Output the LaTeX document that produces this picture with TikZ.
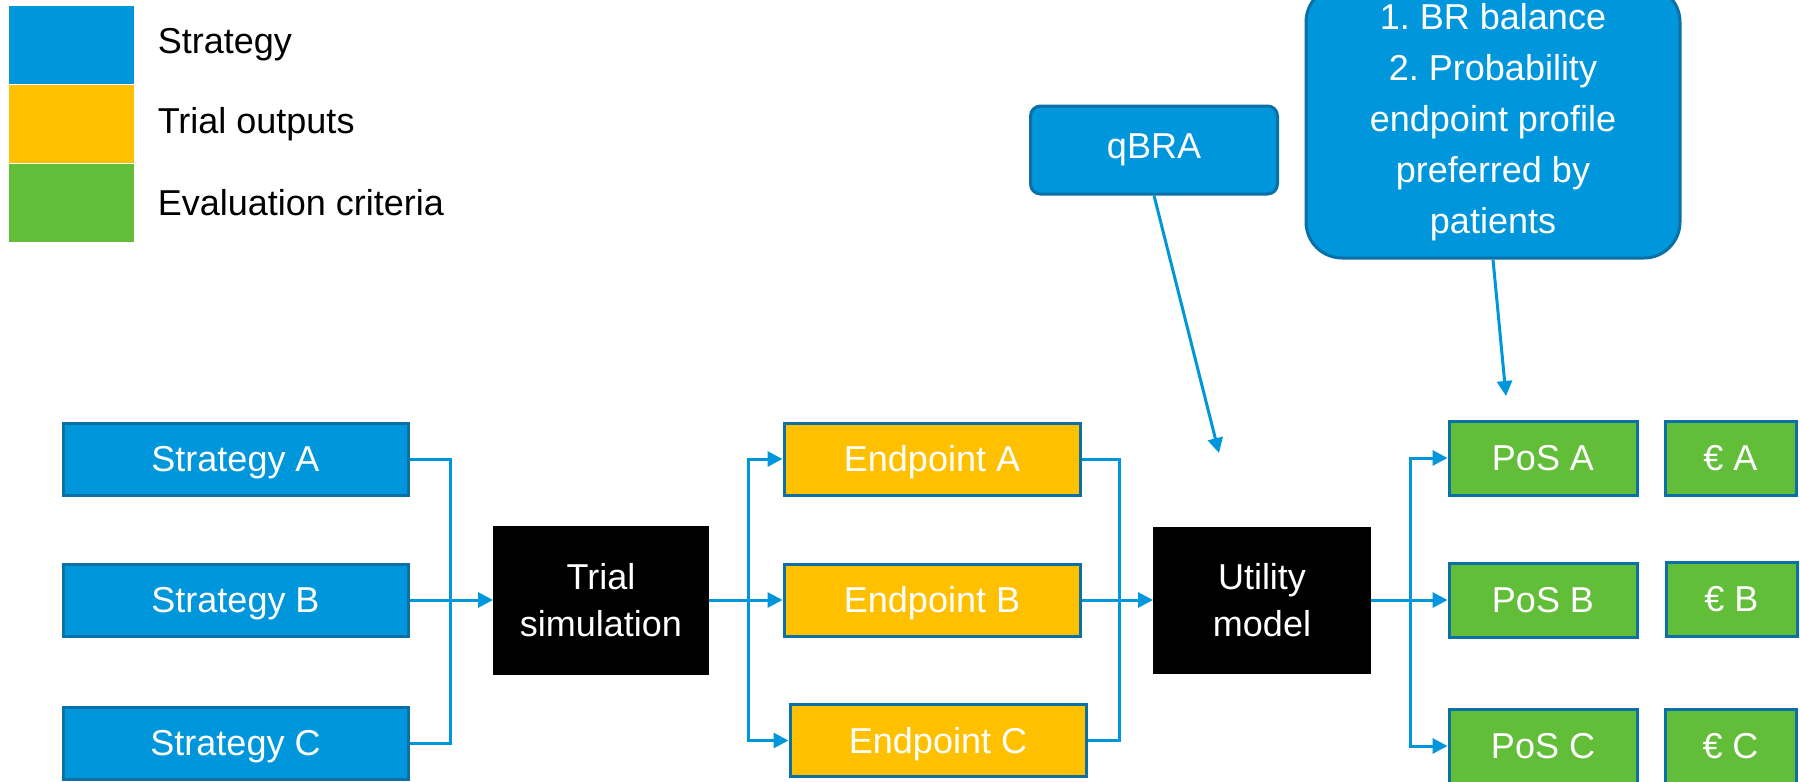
\documentclass[tikz,border=0pt]{standalone}
\usepackage{fontspec}
\setmainfont{Liberation Sans}
\usepackage{xcolor}
\definecolor{stratblue}{HTML}{0096DB}
\definecolor{edge}{HTML}{0A70A6}
\definecolor{output}{HTML}{FFC000}
\definecolor{criteria}{HTML}{62BD39}
\usepackage{tikz}
\usetikzlibrary{arrows.meta, positioning}
\frenchspacing
\tikzset{
  >={Triangle[length=7.5pt, width=7.5pt]},
  box/.style={draw=edge, line width=1.5pt, align=center, inner sep=2pt,
    font=\fontsize{18}{23.5}\selectfont, text=white, minimum height=36pt},
  oneline/.style={box, text height=16.5pt, text depth=3.8pt},
  strat/.style={oneline, fill=stratblue, minimum width=172.5pt},
  outp/.style={oneline, fill=output, minimum width=148pt},
  crit/.style={oneline, fill=criteria, minimum height=37pt},
  model/.style={box, draw=black, fill=black, line width=0.5pt},
  input/.style={box, fill=stratblue, rounded corners=5pt},
  swatch/.style={inner sep=0pt, minimum width=62.5pt, minimum height=39pt},
  legtext/.style={font=\fontsize{18}{22}\selectfont, inner sep=2.5pt, anchor=west},
  flow/.style={draw=stratblue, line width=1.5pt},
}

\begin{document}
\begin{tikzpicture}[x=0.5pt, y=0.5pt, node distance=35pt and 12.5pt]
  \useasboundingbox (0,0) rectangle (1800,-782);
  \clip (0,0) rectangle (1800,-782);

  % legend
  \node[swatch, fill=stratblue] (lgs) at (71.5,-45) {};
  \node[swatch, fill=output, below=0pt of lgs] (lgo) {};
  \node[swatch, fill=criteria, below=0pt of lgo] (lgc) {};
  \node[legtext, right=9pt of lgs] (lgst) {Strategy};
  \node[legtext, right=9pt of lgo] (lgot) {Trial outputs};
  \node[legtext, right=9pt of lgc] (lgct) {Evaluation criteria};

  % strategies
  \node[strat] (sa) at (235.5,-459) {Strategy A};
  \node[strat, on grid, below=70.5pt of sa] (sb) {Strategy B};
  \node[strat, on grid, below=71.5pt of sb] (sc) {Strategy C};

  \node[model, minimum width=107.5pt, minimum height=74pt] (trial) at (601,-600)
    {Trial\\simulation};

  % trial outputs
  \node[outp] (ea) at (932,-459) {Endpoint A};
  \node[outp, on grid, below=70.5pt of ea] (eb) {Endpoint B};
  \node[outp, on grid, below=70.25pt of eb, xshift=3pt] (ec) {Endpoint C};

  \node[model, minimum width=108.5pt, minimum height=73pt] (util) at (1262,-600)
    {Utility\\model};

  % evaluation criteria
  \node[crit, minimum width=94pt] (pa) at (1543,-458) {PoS A};
  \node[crit, minimum width=94pt, on grid, below=71pt of pa] (pb) {PoS B};
  \node[crit, minimum width=94pt, on grid, below=73pt of pb] (pc) {PoS C};
  \node[crit, minimum width=65.5pt, right=of pa] (ca) {€ A};
  \node[crit, minimum width=65.5pt, right=13pt of pb, yshift=0.5pt] (cb) {€ B};
  \node[crit, minimum width=65.5pt, right=of pc] (cc) {€ C};

  % inputs to the utility model
  \node[input, minimum width=123.5pt, minimum height=44pt] (qbra) at (1154,-150) {qBRA};
  \node[input, rounded corners=18pt, minimum width=187pt, minimum height=136pt,
    font=\fontsize{18}{25.5}\selectfont] (pref) at (1493,-122)
    {1. BR balance\\2. Probability\\endpoint profile\\preferred by\\patients};

  \coordinate (qend) at (1219,-453);
  \coordinate (pend) at (1506,-396);
  \coordinate (js) at (450,-600);
  \coordinate (jt) at (748,-600);
  \coordinate (je) at (1119,-600);
  \coordinate (ju) at (1410,-600);

  % connectors
  \draw[flow] (sa.east) -| (js);
  \draw[flow] (sc.east) -| (js);
  \draw[flow, ->] (sb.east) -- (trial.west);
  \draw[flow, ->] (trial.east) -- (eb.west);
  \draw[flow, ->] (jt) |- (ea.west);
  \draw[flow, ->] (jt) |- (ec.west);
  \draw[flow] (ea.east) -| (je);
  \draw[flow] (ec.east) -| (je);
  \draw[flow, ->] (eb.east) -- (util.west);
  \draw[flow, ->] (util.east) -- (pb.west);
  \draw[flow, ->] (ju) |- (pa.west);
  \draw[flow, ->] (ju) |- (pc.west);
  \draw[flow, ->] (qbra.south) -- (qend);
  \draw[flow, ->] (pref.south) -- (pend);
\end{tikzpicture}
\end{document}
